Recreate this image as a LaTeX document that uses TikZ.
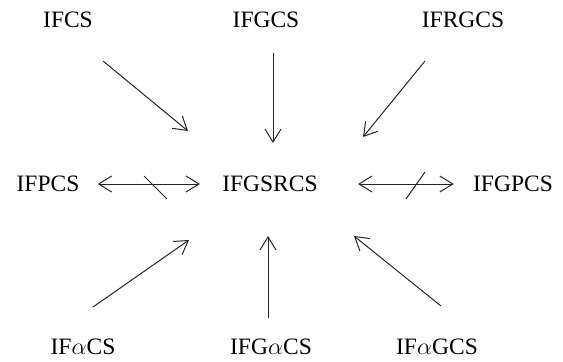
\documentclass[tikz,border=0pt]{standalone}
\usepackage{fontspec}
\setmainfont{Liberation Serif}
\usetikzlibrary{arrows.meta}

\begin{document}
\begin{tikzpicture}[x=0.5pt, y=-0.5pt, >={Straight Barb[length=6.5pt,width=8pt]},
  cls/.style={inner sep=2pt, font=\fontsize{11.75}{14}\selectfont},
  imp/.style={draw=black!85, line width=0.5pt}]
\useasboundingbox (0,0) rectangle (563,361);
% The classes, three rows of three
\node [cls] (ifcs)    at (68,20)   {IFCS};
\node [cls] (ifgcs)   at (266,20)  {IFGCS};
\node [cls] (ifrgcs)  at (463,20)  {IFRGCS};
\node [cls] (ifpcs)   at (48,184)  {IFPCS};
\node [cls] (ifgsrcs) at (270,184) {IFGSRCS};
\node [cls] (ifgpcs)  at (513,184) {IFGPCS};
\node [cls] (ifacs)   at (83,347)  {IF$\alpha$CS};
\node [cls] (ifgacs)  at (271,347) {IFG$\alpha$CS};
\node [cls] (ifagcs)  at (437,347) {IF$\alpha$GCS};
% Free ends of the one-way arrows (tail t, head h)
\coordinate (t1) at (103,61);  \coordinate (h1) at (188,131);
\coordinate (t2) at (273,53);  \coordinate (h2) at (273,143);
\coordinate (t3) at (425,61);  \coordinate (h3) at (363,137);
\coordinate (t4) at (93,307);  \coordinate (h4) at (189,240);
\coordinate (t5) at (268,318); \coordinate (h5) at (268,236);
\coordinate (t6) at (441,306); \coordinate (h6) at (354,236);
\foreach \n in {1,...,6} {
  \draw [imp,->] (t\n) -- (h\n);
}
% The two-way arrows, each one struck through
\draw [imp,<->,shorten <=7pt,shorten >=9pt] (ifpcs) -- (ifgsrcs);
\draw [imp,<->,shorten <=18pt,shorten >=7.5pt] (ifgsrcs) -- (ifgpcs);
\coordinate (a1) at (144,176); \coordinate (b1) at (167,199);
\coordinate (a2) at (406,199); \coordinate (b2) at (425,172);
\foreach \n in {1,2} {
  \draw [imp] (a\n) -- (b\n);
}
\end{tikzpicture}
\end{document}
